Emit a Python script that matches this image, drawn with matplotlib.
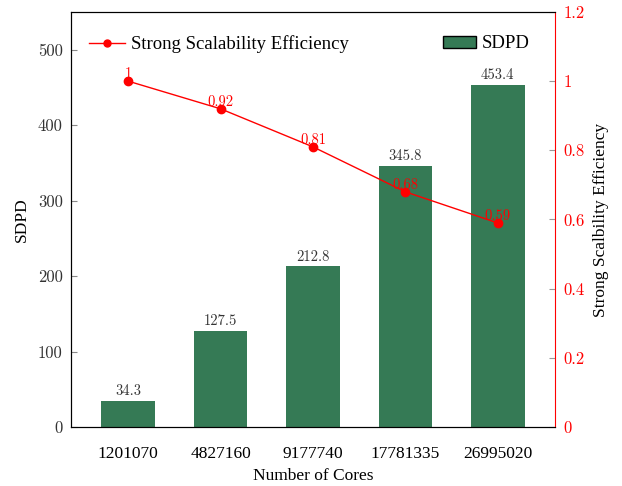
import matplotlib
matplotlib.use("Agg")
import matplotlib.pyplot as plt
from matplotlib.lines import Line2D
from matplotlib.patches import Patch

plt.rcParams['font.family'] = ['Liberation Serif', 'DejaVu Serif']
plt.rcParams['axes.formatter.use_mathtext'] = True
CM = ['cmr10', 'DejaVu Serif']

cores = ['1201070', '4827160', '9177740', '17781335', '26995020']
sdpd = [34.3, 127.5, 212.8, 345.8, 453.4]
eff = [1.0, 0.92, 0.81, 0.68, 0.59]
eff_labels = ['1', '0.92', '0.81', '0.68', '0.59']
left_ticks = [0, 100, 200, 300, 400, 500]
right_ticks = [0, 0.2, 0.4, 0.6, 0.8, 1.0, 1.2]
right_tick_labels = ['0', '0.2', '0.4', '0.6', '0.8', '1', '1.2']

bar_color = '#357A55'

fig = plt.figure(figsize=(6.22, 4.86), dpi=100)
ax = fig.add_axes([71/622, 1-427/486, (555-71)/622, (427-12)/486])
x = list(range(len(cores)))
ax.bar(x, sdpd, width=0.58, color=bar_color, edgecolor='none', zorder=2)
for xi, v in zip(x, sdpd):
    ax.annotate(f'{v}', (xi, v), xytext=(0, 2), textcoords='offset points',
                ha='center', va='bottom', fontsize=10.5, color='#333333', family=CM)
ax.set_xlim(-0.62, 4.62)
ax.set_ylim(0, 550)
ax.set_yticks(left_ticks)
ax.set_yticklabels([str(t) for t in left_ticks], family=CM, color='#333333')
ax.set_xticks(x)
ax.set_xticklabels(cores)
ax.tick_params(axis='x', length=0, labelsize=12.5, pad=14)
ax.tick_params(axis='y', direction='in', length=4, labelsize=12, color='#888888', pad=6)
ax.set_ylabel('SDPD', fontsize=12.5, labelpad=6)
ax.set_xlabel('Number of Cores', fontsize=12.5, labelpad=4)

ax2 = ax.twinx()
ax2.plot(x, eff, color='red', marker='o', markersize=6, linewidth=1, zorder=3)
for xi, v, lab in zip(x, eff, eff_labels):
    ax2.annotate(lab, (xi, v), xytext=(0, 0), textcoords='offset points',
                 ha='center', va='bottom', fontsize=10.5, color='red', family=CM)
ax2.set_ylim(0, 1.2)
ax2.set_yticks(right_ticks)
ax2.set_yticklabels(right_tick_labels, family=CM)
ax2.tick_params(axis='y', direction='in', length=4, labelsize=12, labelcolor='red', color='#999999', pad=6)
ax2.spines['right'].set_color('red')
ax2.set_ylabel('Strong Scalbility Efficiency', fontsize=12.5, labelpad=6)
ax.spines['right'].set_visible(False)

h1 = Line2D([0], [0], color='red', marker='o', markersize=5, linewidth=1)
leg1 = ax2.legend([h1], ['Strong Scalability Efficiency'], loc='upper left',
                  frameon=False, fontsize=13.5, bbox_to_anchor=(0.01, 0.975),
                  handlelength=1.9, handletextpad=0.35, borderaxespad=0.3)
ax2.add_artist(leg1)
h2 = Patch(facecolor=bar_color, edgecolor='black', linewidth=1)
ax2.legend([h2], ['SDPD'], loc='upper right', frameon=False, fontsize=13.5,
           bbox_to_anchor=(0.975, 0.975), handlelength=1.8, handleheight=0.6,
           handletextpad=0.3, borderaxespad=0.3)

fig.savefig('out.png', dpi=100)
